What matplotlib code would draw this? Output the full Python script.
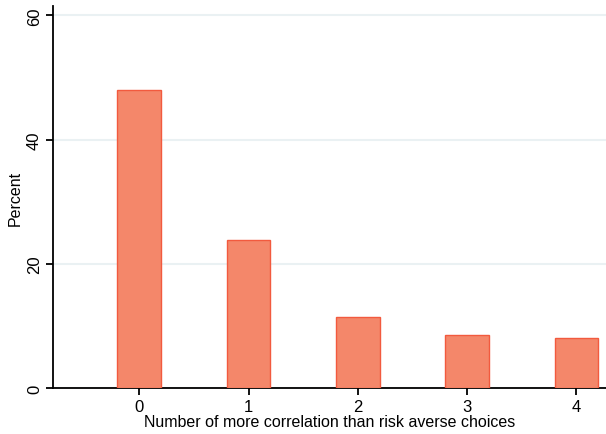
import matplotlib.pyplot as plt
import numpy as np

plt.rcParams['font.family'] = ['Liberation Sans', 'DejaVu Sans']

choices = [0, 1, 2, 3, 4]
percent = [47.9, 23.9, 11.45, 8.55, 8.0]
yticks = [0, 20, 40, 60]

fig = plt.figure(figsize=(6.06, 4.35), dpi=100)
ax = fig.add_axes([53 / 606, 46 / 435, 553 / 606, 382 / 435])

ax.bar(choices, percent, width=0.4, color='#F4876A', edgecolor='#F25A3E', linewidth=1.0, zorder=3)

ax.set_xlim(-0.79, 4.27)
ax.set_ylim(0, 61.5)
ax.set_xticks(choices)
ax.set_yticks(yticks)
ax.set_yticklabels([str(v) for v in yticks], rotation=90, va='center')
ax.grid(axis='y', color='#EAF1F3', linewidth=1.5, zorder=0)

for s in ['top', 'right']:
    ax.spines[s].set_visible(False)
for s in ['left', 'bottom']:
    ax.spines[s].set_linewidth(1.3)
ax.tick_params(axis='both', length=5, width=1.3, labelsize=12, pad=3)

ax.set_xlabel('Number of more correlation than risk averse choices', fontsize=11.5, labelpad=0)
ax.set_ylabel('Percent', fontsize=11.5, labelpad=3)

fig.savefig('out.png', dpi=100)
